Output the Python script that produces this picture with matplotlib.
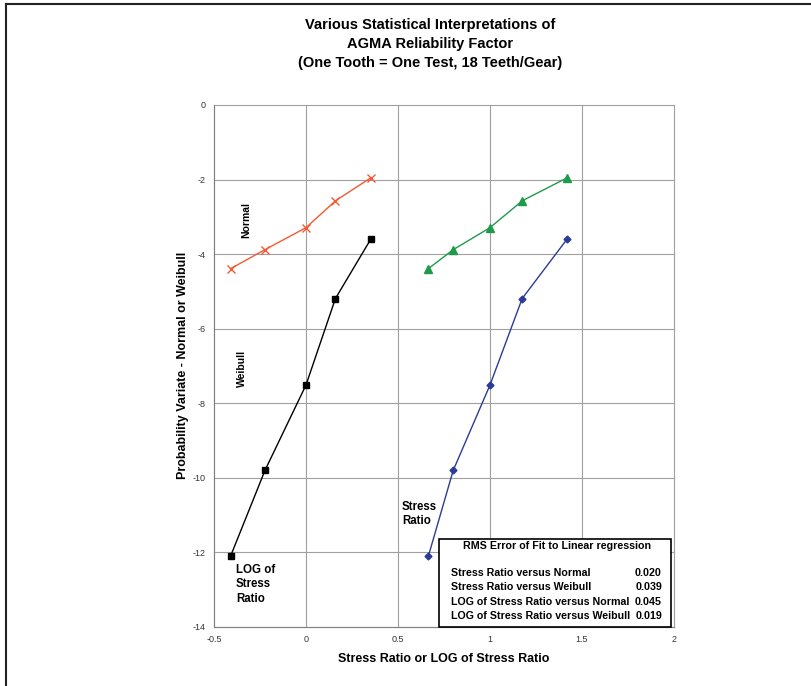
import numpy as np
import matplotlib.pyplot as plt
from matplotlib.patches import Rectangle
from matplotlib.lines import Line2D

# Data
stress_ratio = [0.665, 0.80, 1.0, 1.175, 1.42]
log_stress_ratio = [-0.41, -0.223, 0.0, 0.16, 0.353]
normal_variate = [-4.39, -3.88, -3.29, -2.57, -1.95]
weibull_variate = [-12.1, -9.8, -7.51, -5.19, -3.59]

rms_labels = ['Stress Ratio versus Normal', 'Stress Ratio versus Weibull',
              'LOG of Stress Ratio versus Normal', 'LOG of Stress Ratio versus Weibull']
rms_values = ['0.020', '0.039', '0.045', '0.019']

xticks = [-0.5, 0, 0.5, 1, 1.5, 2]
xtick_labels = ['-0.5', '0', '0.5', '1', '1.5', '2']
yticks = [0, -2, -4, -6, -8, -10, -12, -14]
ytick_labels = ['0', '-2', '-4', '-6', '-8', '-10', '-12', '-14']

plt.rcParams['font.family'] = ['Liberation Sans', 'DejaVu Sans']

W, H = 812, 686
fig = plt.figure(figsize=(W / 100, H / 100), dpi=100)

# Outer chart border (only top and left are visible)
fig.add_artist(Line2D([6 / W, 6 / W], [0, 1 - 4 / H], color='#222222', lw=1.5))
fig.add_artist(Line2D([6 / W, 1], [1 - 4 / H, 1 - 4 / H], color='#222222', lw=1.5))

ax = fig.add_axes([214 / W, 1 - 627 / H, 460 / W, 522 / H])

# Series
ax.plot(log_stress_ratio, normal_variate, color='#f25a33', lw=1, marker='x', ms=6, mew=1)
ax.plot(log_stress_ratio, weibull_variate, color='black', lw=1, marker='s', ms=5)
ax.plot(stress_ratio, normal_variate, color='#1f9a4b', lw=1, marker='^', ms=6)
ax.plot(stress_ratio, weibull_variate, color='#2b3c96', lw=1, marker='D', ms=3.5)

ax.set_xlim(-0.5, 2)
ax.set_ylim(-14, 0)
ax.set_xticks(xticks)
ax.set_xticklabels(xtick_labels)
ax.set_yticks(yticks)
ax.set_yticklabels(ytick_labels)
ax.tick_params(labelsize=6.5, length=0, pad=6, colors='#333333')
ax.grid(True, color='#a0a0a0', lw=0.8, clip_on=False)
ax.set_axisbelow(True)
for side in ['top', 'right']:
    ax.spines[side].set_visible(False)
for side in ['left', 'bottom']:
    ax.spines[side].set_color('#808080')

# Axis titles
fig.text(444 / W, 1 - 659 / H, 'Stress Ratio or LOG of Stress Ratio', ha='center', va='center',
         fontsize=9, fontweight='bold')
fig.text(183 / W, 1 - 365 / H, 'Probability Variate - Normal or Weibull', ha='center', va='center',
         rotation=90, fontsize=9, fontweight='bold')

# Title
fig.text(430 / W, 1 - 44 / H, 'Various Statistical Interpretations of\nAGMA Reliability Factor\n(One Tooth = One Test, 18 Teeth/Gear)',
         ha='center', va='center', fontsize=10.5, fontweight='bold', linespacing=1.45)

# Series annotations
fig.text(246 / W, 1 - 220 / H, 'Normal', rotation=90, ha='center', va='center', fontsize=7.5, fontweight='bold')
fig.text(242 / W, 1 - 368 / H, 'Weibull', rotation=90, ha='center', va='center', fontsize=7.5, fontweight='bold')
fig.text(236 / W, 1 - 564 / H, 'LOG of\nStress\nRatio', ha='left', va='top', fontsize=8.3, fontweight='bold', linespacing=1.25)
fig.text(402 / W, 1 - 501 / H, 'Stress\nRatio', ha='left', va='top', fontsize=8.3, fontweight='bold', linespacing=1.25)

# RMS error box
fig.add_artist(Rectangle((439 / W, 1 - 627 / H), 232 / W, 88 / H, transform=fig.transFigure,
                         facecolor='white', edgecolor='black', lw=1.2, zorder=5))
fig.text(557 / W, 1 - 546 / H, 'RMS Error of Fit to Linear regression', ha='center', va='center',
         fontsize=7.7, fontweight='bold', zorder=6)
for i in range(len(rms_labels)):
    y = 1 - (573 + 14.3 * i) / H
    fig.text(451 / W, y, rms_labels[i], ha='left', va='center', fontsize=7.7, fontweight='bold', zorder=6)
    fig.text(662 / W, y, rms_values[i], ha='right', va='center', fontsize=7.7, fontweight='bold', zorder=6)

fig.savefig('out.png', dpi=100)
